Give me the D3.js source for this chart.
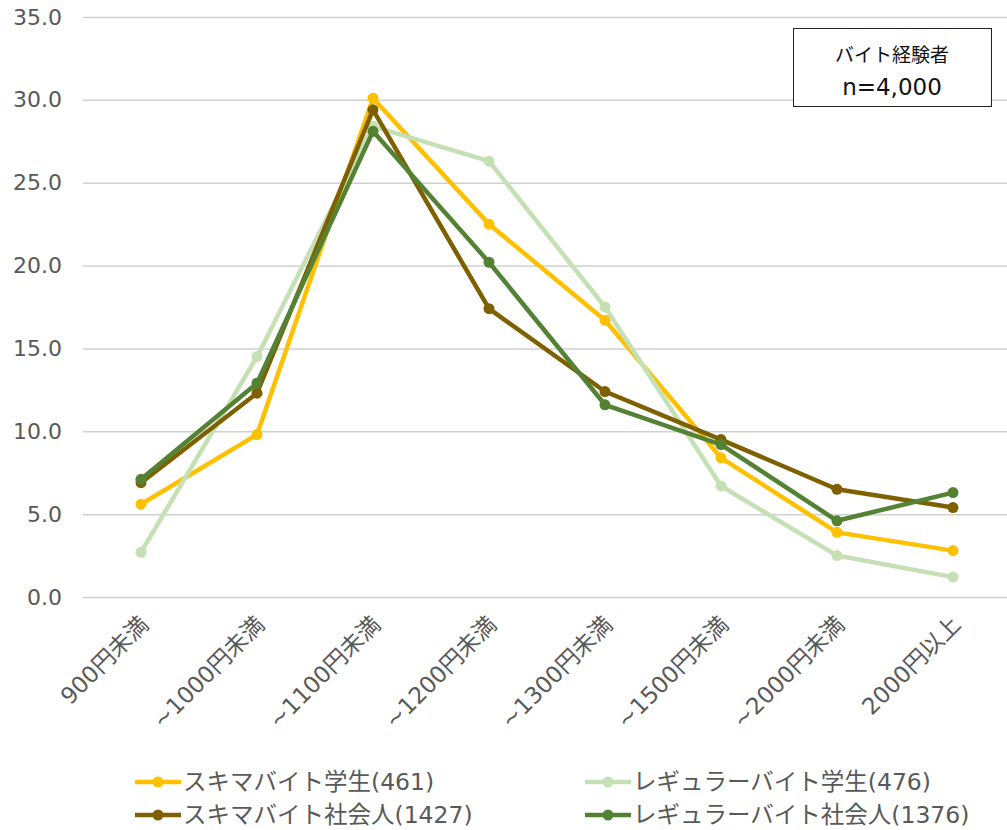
<!DOCTYPE html>
<html>
<head>
<meta charset="utf-8">
<script src="https://cdn.jsdelivr.net/npm/d3@7"></script>
<style>
  html, body { margin: 0; padding: 0; background: #fff; }
  svg { display: block; font-family: "DejaVu Sans", "Noto Sans CJK JP", sans-serif; }
</style>
</head>
<body>
<svg id="chart" width="1007" height="830"></svg>
<script>
// Hourly wage bands (x axis)
const categories = ["900円未満", "~1000円未満", "~1100円未満", "~1200円未満", "~1300円未満", "~1500円未満", "~2000円未満", "2000円以上"];

// Share of respondents (%) per wage band, one array per group
const sukimaStudent = [5.6, 9.8, 30.1, 22.5, 16.7, 8.4, 3.9, 2.8];
const regularStudent = [2.7, 14.5, 28.4, 26.3, 17.5, 6.7, 2.5, 1.2];
const sukimaWorker = [6.9, 12.3, 29.4, 17.4, 12.4, 9.5, 6.5, 5.4];
const regularWorker = [7.1, 12.9, 28.1, 20.2, 11.6, 9.2, 4.6, 6.3];

const seriesNames = ["スキマバイト学生(461)", "レギュラーバイト学生(476)", "スキマバイト社会人(1427)", "レギュラーバイト社会人(1376)"];
const seriesColors = ["#FFC000", "#C5E0B4", "#7F6000", "#548235"];

const yTicks = [0, 5, 10, 15, 20, 25, 30, 35];

const series = [sukimaStudent, regularStudent, sukimaWorker, regularWorker].map((values, i) => ({
  name: seriesNames[i], color: seriesColors[i], values
}));

const svg = d3.select("#chart");
const plot = { left: 83, right: 1011, top: 17, bottom: 597 };

const x = d3.scaleBand().domain(categories).range([plot.left, plot.right]);
const y = d3.scaleLinear().domain([0, 35]).range([plot.bottom, plot.top]);

// Horizontal gridlines with value labels
const yAxis = d3.axisLeft(y).tickValues(yTicks).tickFormat(d3.format(".1f"))
  .tickSize(-(1007 - plot.left)).tickPadding(21);
const gy = svg.append("g").attr("transform", `translate(${plot.left},0)`).call(yAxis);
gy.select(".domain").remove();
gy.selectAll(".tick line").attr("stroke", "#D0D0D0").attr("stroke-width", 1.5);
gy.selectAll(".tick text").attr("fill", "#595959").style("font-size", "22px")
  .style("font-family", "'DejaVu Sans', sans-serif");

// Category labels, rotated
const xAxis = d3.axisBottom(x).tickSize(0).tickPadding(0);
const gx = svg.append("g").attr("transform", `translate(0,${plot.bottom})`).call(xAxis);
gx.select(".domain").remove();
gx.selectAll(".tick text")
  .attr("fill", "#595959")
  .style("font-size", "23px")
  .style("font-family", "'DejaVu Sans', 'Noto Sans CJK JP', sans-serif")
  .attr("text-anchor", "end")
  .attr("dy", "0")
  .attr("transform", "translate(9,29) rotate(-45)");

// Lines and markers
const line = d3.line()
  .x((d, i) => x(categories[i]) + x.bandwidth() / 2)
  .y(d => y(d));

series.forEach(s => {
  const g = svg.append("g");
  g.append("path").datum(s.values)
    .attr("d", line)
    .attr("fill", "none")
    .attr("stroke", s.color)
    .attr("stroke-width", 4.5)
    .attr("stroke-linejoin", "round");
  g.selectAll("circle").data(s.values).join("circle")
    .attr("cx", (d, i) => x(categories[i]) + x.bandwidth() / 2)
    .attr("cy", d => y(d))
    .attr("r", 5.5)
    .attr("fill", s.color);
});

// Sample note box
const note = svg.append("g");
note.append("rect").attr("x", 793.5).attr("y", 28.5).attr("width", 198).attr("height", 78)
  .attr("fill", "#fff").attr("stroke", "#222").attr("stroke-width", 1);
note.append("text").attr("x", 892).attr("y", 62).attr("text-anchor", "middle")
  .style("font-size", "19px").style("font-family", "'Noto Sans CJK JP', sans-serif")
  .attr("fill", "#111").text("バイト経験者");
note.append("text").attr("x", 892).attr("y", 95).attr("text-anchor", "middle")
  .style("font-size", "23px").style("font-family", "'DejaVu Sans', sans-serif")
  .attr("fill", "#111").text("n=4,000");

// Legend (two columns, row-wise)
const legendPos = [[135, 782], [585, 782], [135, 815], [585, 815]];
series.forEach((s, i) => {
  const [lx, ly] = legendPos[i];
  const g = svg.append("g").attr("transform", `translate(${lx},${ly})`);
  g.append("line").attr("x1", 0).attr("x2", 46).attr("y1", 0).attr("y2", 0)
    .attr("stroke", s.color).attr("stroke-width", 4.5);
  g.append("circle").attr("cx", 23).attr("cy", 0).attr("r", 5.5).attr("fill", s.color);
  g.append("text").attr("x", 48).attr("y", 0).attr("dy", "0.36em")
    .style("font-size", "23.5px").style("font-family", "'DejaVu Sans', 'Noto Sans CJK JP', sans-serif")
    .attr("fill", "#595959").text(s.name);
});
</script>
</body>
</html>
